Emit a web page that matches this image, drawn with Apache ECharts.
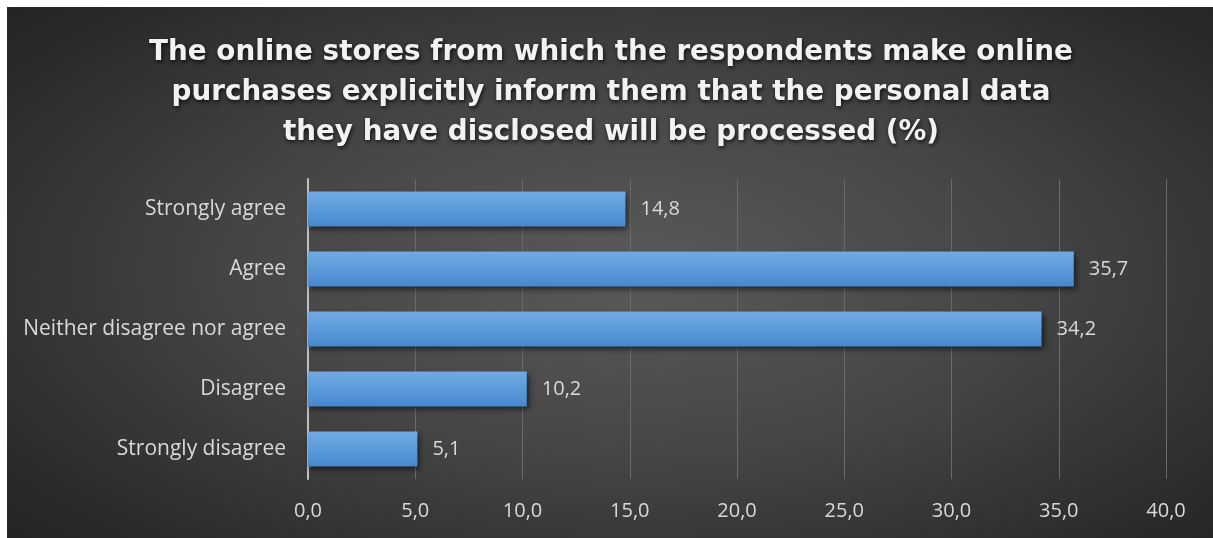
<!DOCTYPE html>
<html>
<head>
<meta charset="utf-8">
<script src="https://cdn.jsdelivr.net/npm/echarts@6/dist/echarts.min.js"></script>
<style>
  html, body { margin: 0; padding: 0; background: #ffffff; }
  #panel {
    position: absolute; left: 7px; top: 7px; width: 1206px; height: 531px;
    background: radial-gradient(ellipse 70% 75% at 52% 50%, #5a5a5a 0%, #464646 45%, #2c2c2c 85%, #242424 100%);
  }
  #chart { position: absolute; left: 0; top: 0; width: 1213px; height: 538px; }
</style>
</head>
<body>
<div id="panel"></div>
<div id="chart"></div>
<script>
// Survey answers, listed from top to bottom
const categories = [
  'Strongly agree',
  'Agree',
  'Neither disagree nor agree',
  'Disagree',
  'Strongly disagree'
];
const shares = [14.8, 35.7, 34.2, 10.2, 5.1];

const titleText = 'The online stores from which the respondents make online\n' +
  'purchases explicitly inform them that the personal data\n' +
  'they have disclosed will be processed (%)';

const fmt = v => v.toFixed(1).replace('.', ',');

const chart = echarts.init(document.getElementById('chart'), null, { renderer: 'canvas' });

chart.setOption({
  backgroundColor: 'transparent',
  animation: false,
  title: {
    text: titleText,
    left: 606,
    top: 28,
    textAlign: 'center',
    textStyle: {
      fontFamily: 'DejaVu Sans',
      fontWeight: 'bold',
      fontSize: 27.8,
      lineHeight: 40,
      color: '#f2f2f2',
      textShadowColor: 'rgba(0,0,0,0.75)',
      textShadowBlur: 4,
      textShadowOffsetX: 1,
      textShadowOffsetY: 2
    }
  },
  grid: { left: 308, right: 47, top: 179, bottom: 59, containLabel: false },
  xAxis: {
    type: 'value',
    min: 0,
    max: 40,
    interval: 5,
    axisLine: { show: false },
    axisTick: { show: false },
    splitLine: { show: true, lineStyle: { color: '#6a6a6a', width: 1 } },
    axisLabel: {
      formatter: v => fmt(v),
      color: '#d9d9d9',
      fontFamily: 'Open Sans',
      fontSize: 20,
      margin: 22
    }
  },
  yAxis: {
    type: 'category',
    data: categories,
    inverse: true,
    axisLine: { show: true, lineStyle: { color: '#bfbfbf', width: 2 } },
    axisTick: { show: false },
    axisLabel: {
      color: '#d9d9d9',
      fontFamily: 'Open Sans',
      fontSize: 21,
      margin: 22
    }
  },
  series: [{
    type: 'bar',
    data: shares,
    barCategoryGap: '42%',
    itemStyle: {
      color: new echarts.graphic.LinearGradient(0, 0, 0, 1, [
        { offset: 0, color: '#72aae2' },
        { offset: 0.5, color: '#5b9bdc' },
        { offset: 1, color: '#4787cc' }
      ]),
      shadowColor: 'rgba(0,0,0,0.6)',
      shadowBlur: 6,
      shadowOffsetX: 2,
      shadowOffsetY: 3
    },
    label: {
      show: true,
      position: 'right',
      distance: 15,
      formatter: p => fmt(p.value),
      color: '#d9d9d9',
      fontFamily: 'Open Sans',
      fontSize: 20
    }
  }]
});
</script>
</body>
</html>
